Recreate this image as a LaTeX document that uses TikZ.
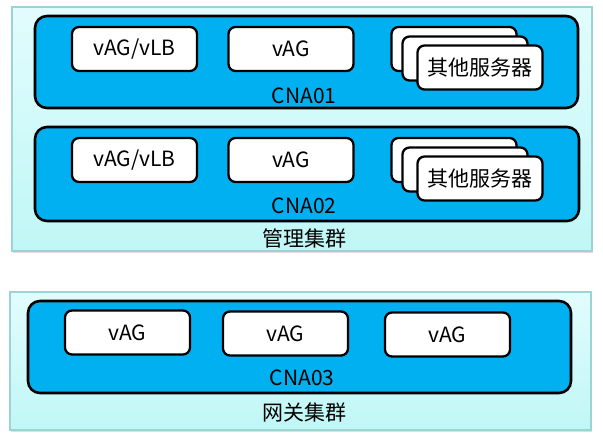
\documentclass[tikz,border=0pt]{standalone}
\usepackage{fontspec}
\setmainfont{Noto Sans CJK SC}
\usetikzlibrary{shadows}

\definecolor{cnablue}{HTML}{00B0F0}
\definecolor{clustertop}{HTML}{E2FCFD}
\definecolor{clusterbot}{HTML}{C0F7F6}
\definecolor{clusterline}{HTML}{9CD4D4}

\begin{document}
\begin{tikzpicture}[%
          x=1pt, y=-1pt,
          every node/.style={font=\fontsize{21}{23}\selectfont, inner sep=0pt},
          cluster/.style={draw=clusterline, line width=1.2pt, top color=clustertop, bottom color=clusterbot,
                          drop shadow={opacity=0.25, shadow xshift=1pt, shadow yshift=-2pt}},
          cna/.style={draw, line width=2.6pt, fill=cnablue, rounded corners=12pt},
          vm/.style={draw, line width=2.3pt, fill=white, rounded corners=7pt,
                     minimum width=125pt, minimum height=44pt}]

  \useasboundingbox (0,0) rectangle (603,444);

  \path[cluster] (12,7) rectangle (592,251);
  \path[cluster] (10,292) rectangle (591,430);

  \path[cna] (35,16) rectangle (578,108);
  \path[cna] (35,127) rectangle (579,221);
  \path[cna] (28,301) rectangle (571,393);

  \node[vm] (vlb1) at (134.5,49) {vAG/vLB};
  \node[vm] (vag1) at (291,49) {vAG};
  \node[vm] (srv1a) at (454,49) {};
  \node[vm] (srv1b) at (465,58.5) {};
  \node[vm] (srv1c) at (480,67.5) {其他服务器};

  \node[vm] (vlb2) at (134.5,160) {vAG/vLB};
  \node[vm] (vag2) at (291,160) {vAG};
  \node[vm] (srv2a) at (454,160) {};
  \node[vm] (srv2b) at (465,169.5) {};
  \node[vm] (srv2c) at (480,178.5) {其他服务器};

  \node[vm] (vag3a) at (127.5,332.5) {vAG};
  \node[vm] (vag3b) at (285.5,333.5) {vAG};
  \node[vm] (vag3c) at (447.5,334.5) {vAG};

  \node (cna01) at (304,96) {CNA01};
  \node (cna02) at (304,206) {CNA02};
  \node (cna03) at (302,378) {CNA03};

  \node (mgmt) at (304,238) {管理集群};
  \node (gw) at (304,412) {网关集群};

\end{tikzpicture}
\end{document}
